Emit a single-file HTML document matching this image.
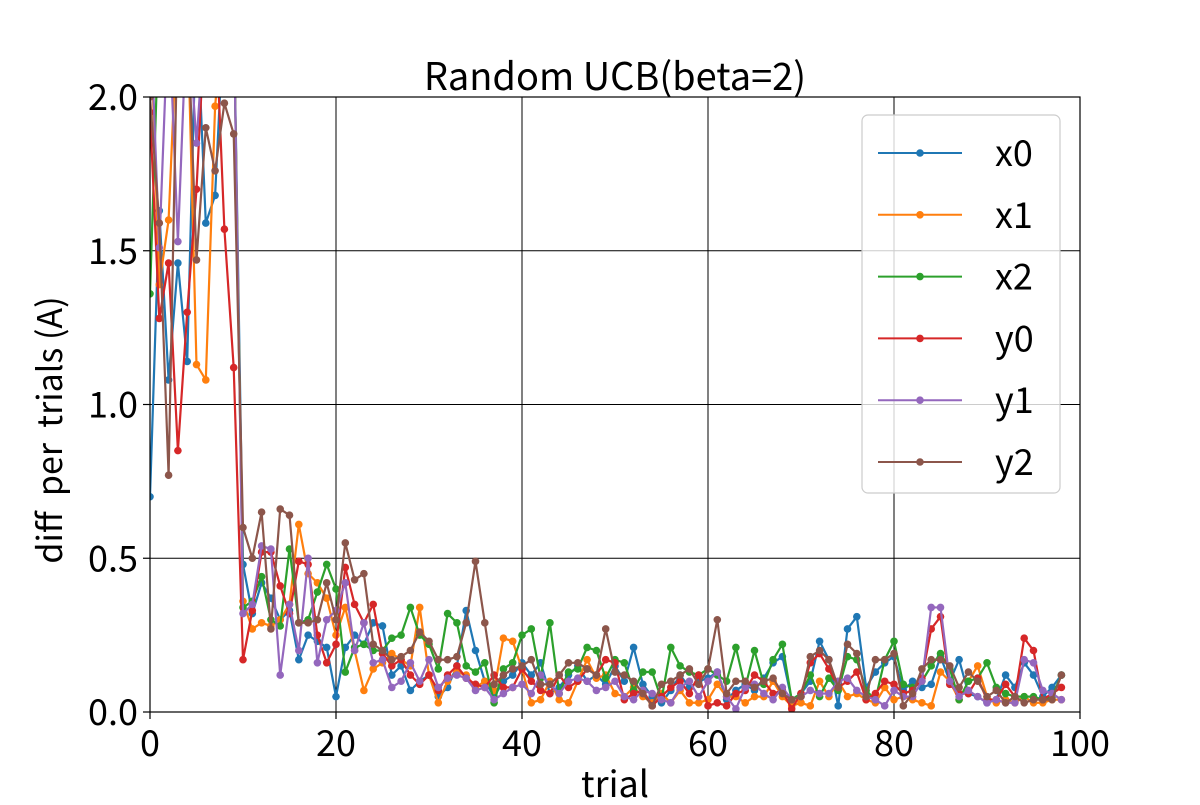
<!DOCTYPE html>
<html><head><meta charset="utf-8"><style>
body{margin:0;background:#fff;}
svg text{font-family:"Noto Sans CJK JP","Liberation Sans",sans-serif;fill:#000;white-space:pre;}
</style></head><body>
<svg id="chart" width="1200" height="800" xmlns="http://www.w3.org/2000/svg">
<defs><clipPath id="pc"><rect x="150" y="97" width="930" height="615"/></clipPath></defs>
<g id="grid"></g>
<g id="series" clip-path="url(#pc)"></g>
<rect x="150" y="97" width="930" height="615" fill="none" stroke="#000" stroke-width="1.2"/>
<g id="ticks"></g>
<text x="615" y="90" font-size="38" text-anchor="middle">Random UCB(beta=2)</text>
<text x="615" y="797" font-size="36" text-anchor="middle">trial</text>
<text transform="translate(62,430) rotate(-90)" font-size="34" text-anchor="middle">diff  per  trials (A)</text>
<g id="legend"></g>
</svg>
<script>
const names=["x0","x1","x2","y0","y1","y2"];
const colors=["#1f77b4","#ff7f0e","#2ca02c","#d62728","#9467bd","#8c564b"];
const xTicks=[0,20,40,60,80,100];
const yTicks=[0.0,0.5,1.0,1.5,2.0];
const yTickLabels=["0.0","0.5","1.0","1.5","2.0"];
const x0=[0.70,1.63,1.08,1.46,1.14,2.3,1.59,1.68,2.3,2.3,0.48,0.32,0.42,0.37,0.30,0.33,0.17,0.25,0.23,0.21,0.05,0.21,0.25,0.22,0.29,0.28,0.12,0.15,0.07,0.10,0.12,0.05,0.08,0.15,0.33,0.20,0.10,0.05,0.10,0.12,0.16,0.12,0.16,0.06,0.08,0.12,0.15,0.10,0.12,0.09,0.15,0.10,0.21,0.09,0.05,0.03,0.07,0.12,0.08,0.10,0.11,0.13,0.04,0.07,0.09,0.07,0.11,0.16,0.18,0.04,0.06,0.10,0.23,0.17,0.02,0.27,0.31,0.08,0.13,0.16,0.18,0.07,0.10,0.08,0.09,0.18,0.10,0.17,0.06,0.05,0.03,0.04,0.12,0.08,0.16,0.12,0.05,0.08,0.12];
const x1=[2.3,1.39,1.6,2.3,2.3,1.13,1.08,1.97,2.3,2.3,0.36,0.27,0.29,0.28,0.30,0.35,0.61,0.45,0.42,0.37,0.25,0.34,0.20,0.07,0.14,0.16,0.19,0.17,0.15,0.34,0.12,0.03,0.10,0.13,0.12,0.08,0.10,0.07,0.24,0.23,0.14,0.03,0.04,0.10,0.04,0.03,0.10,0.17,0.11,0.12,0.06,0.05,0.08,0.05,0.03,0.06,0.03,0.07,0.03,0.03,0.04,0.09,0.05,0.05,0.03,0.05,0.05,0.10,0.05,0.02,0.03,0.02,0.10,0.05,0.10,0.05,0.06,0.04,0.03,0.08,0.04,0.05,0.04,0.03,0.02,0.13,0.10,0.04,0.10,0.15,0.05,0.03,0.04,0.03,0.05,0.03,0.03,0.04,0.04];
const x2=[1.36,2.3,2.3,2.3,2.3,2.3,2.3,2.3,2.3,2.3,0.34,0.36,0.44,0.30,0.28,0.53,0.29,0.30,0.39,0.48,0.40,0.13,0.21,0.22,0.20,0.20,0.24,0.25,0.34,0.25,0.22,0.14,0.32,0.29,0.15,0.13,0.16,0.03,0.14,0.16,0.25,0.27,0.11,0.29,0.06,0.13,0.14,0.21,0.20,0.11,0.17,0.16,0.07,0.13,0.13,0.04,0.21,0.15,0.13,0.12,0.14,0.12,0.10,0.21,0.08,0.20,0.09,0.17,0.22,0.04,0.06,0.12,0.05,0.11,0.07,0.18,0.17,0.07,0.04,0.17,0.23,0.09,0.08,0.10,0.15,0.19,0.14,0.04,0.10,0.11,0.16,0.08,0.06,0.05,0.05,0.05,0.04,0.05,0.12];
const y0=[1.95,1.28,1.46,0.85,1.30,1.70,2.3,2.3,1.57,1.12,0.17,0.33,0.52,0.52,0.41,0.32,0.49,0.48,0.25,0.16,0.22,0.47,0.35,0.29,0.35,0.19,0.15,0.17,0.12,0.09,0.12,0.07,0.12,0.15,0.11,0.09,0.08,0.12,0.08,0.08,0.14,0.10,0.07,0.06,0.12,0.08,0.10,0.14,0.12,0.17,0.16,0.04,0.06,0.07,0.02,0.05,0.08,0.10,0.06,0.12,0.02,0.03,0.02,0.06,0.07,0.12,0.10,0.06,0.07,0.01,0.06,0.16,0.19,0.14,0.08,0.10,0.13,0.04,0.06,0.10,0.09,0.06,0.07,0.11,0.27,0.31,0.09,0.06,0.06,0.11,0.04,0.04,0.09,0.05,0.24,0.20,0.04,0.06,0.08];
const y1=[2.3,1.51,2.3,1.53,2.3,1.85,2.3,2.3,2.3,2.3,0.32,0.35,0.54,0.53,0.12,0.35,0.20,0.50,0.16,0.30,0.33,0.42,0.20,0.29,0.16,0.17,0.08,0.10,0.16,0.10,0.17,0.08,0.11,0.12,0.11,0.07,0.08,0.04,0.06,0.08,0.09,0.06,0.12,0.09,0.06,0.10,0.11,0.10,0.07,0.08,0.10,0.05,0.04,0.07,0.06,0.04,0.03,0.08,0.10,0.05,0.10,0.13,0.05,0.01,0.08,0.09,0.06,0.04,0.08,0.04,0.05,0.07,0.06,0.06,0.10,0.11,0.07,0.05,0.04,0.02,0.07,0.05,0.05,0.10,0.34,0.34,0.10,0.05,0.07,0.05,0.03,0.04,0.03,0.03,0.17,0.16,0.07,0.06,0.04];
const y2=[2.0,1.59,0.77,2.3,2.3,1.47,1.90,1.76,1.98,1.88,0.60,0.50,0.65,0.27,0.66,0.64,0.29,0.29,0.30,0.42,0.30,0.55,0.43,0.45,0.22,0.20,0.17,0.18,0.20,0.26,0.23,0.17,0.17,0.18,0.29,0.49,0.29,0.09,0.12,0.14,0.15,0.17,0.09,0.09,0.12,0.16,0.16,0.14,0.12,0.27,0.13,0.12,0.10,0.06,0.02,0.09,0.10,0.12,0.14,0.09,0.14,0.30,0.06,0.10,0.10,0.08,0.10,0.11,0.06,0.04,0.05,0.18,0.20,0.17,0.08,0.22,0.19,0.05,0.17,0.17,0.19,0.02,0.06,0.14,0.17,0.17,0.15,0.08,0.13,0.10,0.05,0.07,0.03,0.05,0.03,0.04,0.04,0.04,0.12];
const seriesData=[x0,x1,x2,y0,y1,y2];

const NS="http://www.w3.org/2000/svg";
const L=150,R=1080,T=97,B=712,XMIN=0,XMAX=100,YMIN=0,YMAX=2;
const xs=v=>L+(v-XMIN)/(XMAX-XMIN)*(R-L);
const ys=v=>B-(v-YMIN)/(YMAX-YMIN)*(B-T);
function mk(tag,attrs,parent){const e=document.createElementNS(NS,tag);for(const k in attrs)e.setAttribute(k,attrs[k]);parent.appendChild(e);return e;}
const grid=document.getElementById('grid'),ticks=document.getElementById('ticks');
xTicks.forEach(t=>{
  const g=mk('line',{x1:xs(t),x2:xs(t),y1:T,y2:B,stroke:'#000','stroke-width':1},grid);
  
  
  mk('line',{x1:xs(t),x2:xs(t),y1:B,y2:B+7,stroke:'#000','stroke-width':1.2},ticks);
  const tx=mk('text',{x:xs(t),y:B+44,'font-size':36,'text-anchor':'middle'},ticks);
  tx.textContent=t;
  
  
});
yTicks.forEach((t,i)=>{
  const g=mk('line',{x1:L,x2:R,y1:ys(t),y2:ys(t),stroke:'#000','stroke-width':1},grid);
  
  
  mk('line',{x1:L-7,x2:L,y1:ys(t),y2:ys(t),stroke:'#000','stroke-width':1.2},ticks);
  const tx=mk('text',{x:L-12,y:ys(t)+13,'font-size':36,'text-anchor':'end'},ticks);
  tx.textContent=yTickLabels[i];
  
  
});
const sg=document.getElementById('series');
seriesData.forEach((arr,si)=>{
  const g=mk('g',{},sg);
  
  
  const pts=arr.map((v,i)=>xs(i)+','+ys(v)).join(' ');
  const pl=mk('polyline',{points:pts,fill:'none',stroke:colors[si],'stroke-width':2.2,'stroke-linejoin':'round'},g);
  
  
  arr.forEach((v,i)=>{
    const c=mk('circle',{cx:xs(i),cy:ys(v),r:3.8,fill:colors[si]},g);
    
    
  });
});
const lg=document.getElementById('legend');
const box=mk('rect',{x:862,y:115,width:198,height:378,rx:6,fill:'#fff','fill-opacity':0.8,stroke:'#ccc','stroke-width':1.2},lg);


names.forEach((n,i)=>{
  const y=153+i*61.8;
  const g=mk('g',{},lg);
  
  
  mk('line',{x1:878,x2:962,y1:y,y2:y,stroke:colors[i],'stroke-width':2},g);
  mk('circle',{cx:920,cy:y,r:3.8,fill:colors[i]},g);
  const t=mk('text',{x:995,y:y+13,'font-size':36},g);
  t.textContent=n;
});
</script>
</body></html>
